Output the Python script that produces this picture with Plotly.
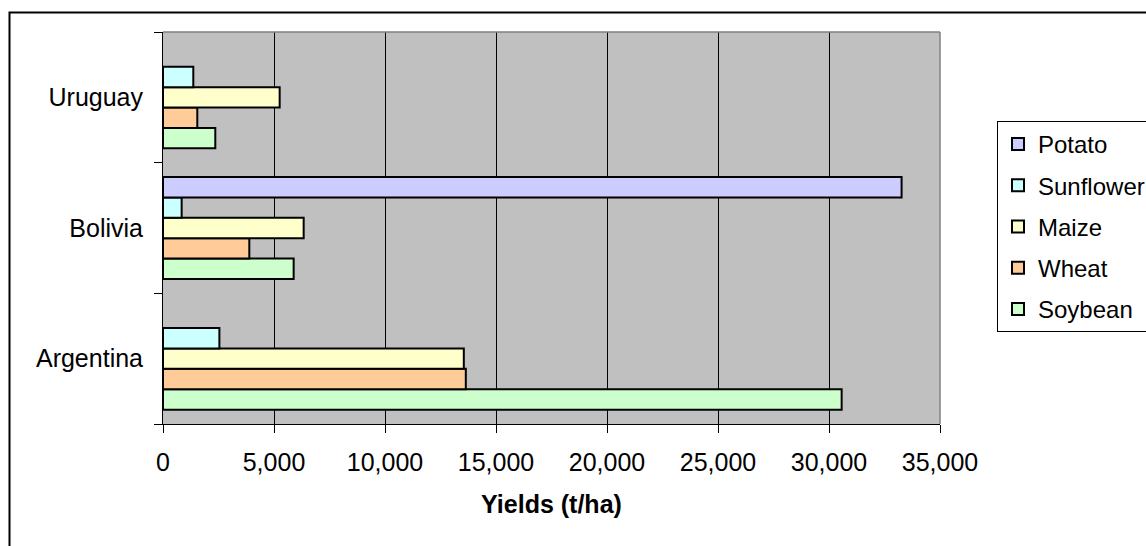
import plotly.graph_objects as go

# Yields by country and crop (t/ha)
countries = ["Argentina", "Bolivia", "Uruguay"]
crops = ["Soybean", "Wheat", "Maize", "Sunflower", "Potato"]
soybean = [30570, 5885, 2356]
wheat = [13640, 3888, 1545]
maize = [13550, 6336, 5255]
sunflower = [2540, 840, 1365]
potato = [None, 33270, None]

x_ticks = [0, 5000, 10000, 15000, 20000, 25000, 30000, 35000]

series = [soybean, wheat, maize, sunflower, potato]
colors = ["#CCFFCC", "#FFCC99", "#FFFFCC", "#CCFFFF", "#CCCCFF"]

FONT = "Liberation Sans, Arial, sans-serif"
FS = 25

fig = go.Figure()
for i, (name, vals, col) in enumerate(zip(crops, series, colors)):
    fig.add_trace(go.Bar(
        y=countries, x=vals, name=name, orientation="h",
        legendgroup=name, legendrank=len(crops) - i,
        marker=dict(color=col, line=dict(color="#000000", width=2)),
    ))

W, H = 1146, 546
L, R, T, B = 163, 206, 32, 122
pw, ph = W - L - R, H - T - B

def px_x(p):
    return (p - L) / pw

def px_y(p):
    return (H - B - p) / ph

fig.update_layout(
    width=W, height=H,
    margin=dict(l=L, r=R, t=T, b=B, autoexpand=False),
    paper_bgcolor="#FFFFFF",
    plot_bgcolor="#C0C0C0",
    barmode="group",
    bargap=0.22,
    bargroupgap=0,
    font=dict(family=FONT, size=FS, color="#000000"),
    showlegend=True,
    legend=dict(
        x=px_x(997), y=px_y(121), xanchor="left", yanchor="top",
        traceorder="grouped", tracegroupgap=7,
        bordercolor="#000000", borderwidth=1, bgcolor="#FFFFFF",
        font=dict(family=FONT, size=24, color="#000000"),
    ),
    xaxis=dict(
        range=[0, 35000], tickvals=x_ticks, tickformat=",",
        showgrid=True, gridcolor="#000000", gridwidth=1,
        zeroline=False, showline=True, linecolor="#000000", linewidth=1,
        ticks="outside", ticklen=8, tickcolor="#000000",
        ticklabelstandoff=8,
        title=dict(text="<b>Yields (t/ha)</b>", standoff=20,
                   font=dict(family=FONT, size=FS, color="#000000")),
    ),
    yaxis=dict(
        type="category", categoryorder="array", categoryarray=countries,
        tickson="boundaries", ticks="outside", ticklen=8, tickcolor="#000000",
        showgrid=False, zeroline=False, showline=True,
        linecolor="#000000", linewidth=1, ticklabelstandoff=14,
    ),
    shapes=[
        # grey frame on the top and right of the plot area
        dict(type="line", xref="x domain", yref="y domain", x0=0, x1=1, y0=1, y1=1,
             line=dict(color="#808080", width=1.5), layer="above"),
        dict(type="line", xref="x domain", yref="y domain", x0=1, x1=1, y0=0, y1=1,
             line=dict(color="#808080", width=1.5), layer="above"),
        # outer chart frame
        dict(type="rect", xref="paper", yref="paper",
             x0=px_x(9.5), x1=px_x(1170), y0=px_y(12.5), y1=px_y(570),
             line=dict(color="#000000", width=2), fillcolor="rgba(0,0,0,0)",
             layer="above"),
    ],
)

fig.write_html("out.html")
